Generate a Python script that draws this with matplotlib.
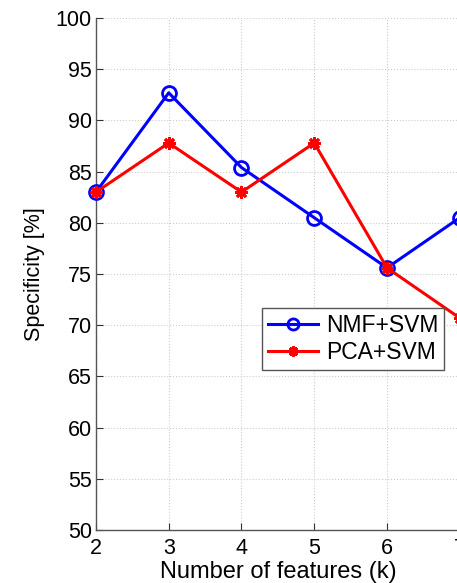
import matplotlib
matplotlib.use('Agg')
from matplotlib import pyplot as plt

plt.rcParams['font.family'] = ['Liberation Sans', 'DejaVu Sans']

k_values = [2, 3, 4, 5, 6, 7]
nmf_svm = [83.0, 92.7, 85.4, 80.5, 75.6, 80.5]
pca_svm = [83.0, 87.8, 83.0, 87.8, 75.6, 70.7]
y_ticks = [50, 55, 60, 65, 70, 75, 80, 85, 90, 95, 100]

fig = plt.figure(figsize=(4.57, 5.83), dpi=100)
ax = fig.add_axes([0.210, 0.091, 0.796, 0.878])

ax.plot(k_values, nmf_svm, color='#0000ff', linewidth=2.2, marker='o',
        markersize=10, markerfacecolor='none', markeredgewidth=2,
        label='NMF+SVM', clip_on=False, zorder=3)
ax.plot(k_values, pca_svm, color='#ff0000', linewidth=2.2, marker=(8, 2, 0),
        markersize=9, markeredgewidth=2,
        label='PCA+SVM', clip_on=False, zorder=3)

ax.set_xlim(2, 7)
ax.set_ylim(50, 100)
ax.set_xticks(k_values)
ax.set_yticks(y_ticks)
ax.tick_params(direction='in', labelsize=15.5, length=5, colors='#333333',
               labelcolor='black', width=0.8, pad=3)
ax.tick_params(axis='x', pad=6)
ax.grid(True, color='#cccccc', linestyle=':', linewidth=0.8)
ax.set_axisbelow(True)
for side in ['top', 'right']:
    ax.spines[side].set_visible(False)
for side in ['left', 'bottom']:
    ax.spines[side].set_color('#555555')
    ax.spines[side].set_linewidth(1.0)

ax.set_xlabel('Number of features (k)', fontsize=17, labelpad=1)
ax.set_ylabel('Specificity [%]', fontsize=15.5, labelpad=8)

leg = ax.legend(loc='upper left', bbox_to_anchor=(0.456, 0.434), fontsize=16.5,
                fancybox=False, framealpha=1, edgecolor='#555555',
                handlelength=2.2, borderpad=0.25, labelspacing=0.2,
                handletextpad=0.35, borderaxespad=0, markerscale=0.8)
leg.get_frame().set_linewidth(1.0)

plt.savefig('out.png', dpi=100)
